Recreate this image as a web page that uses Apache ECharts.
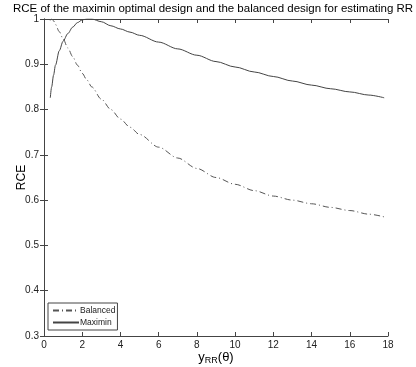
<!DOCTYPE html>
<html>
<head>
<meta charset="utf-8">
<script src="https://cdn.jsdelivr.net/npm/echarts@6/dist/echarts.min.js"></script>
<style>
html,body{margin:0;padding:0;background:#fff;}
#chart{width:416px;height:367px;}
</style>
</head>
<body>
<div id="chart"></div>
<script>
var xValues = [0.33,0.4,0.5,0.6,0.8,1.0,1.25,1.5,1.75,2,2.25,2.5,3,3.5,4,4.5,5,6,7,8,9,10,11,12,13,14,15,16,17,17.8];
var maximinValues = [0.826,0.85,0.876,0.898,0.930,0.951,0.968,0.982,0.992,0.998,1.0,1.0,0.994,0.985,0.978,0.971,0.964,0.949,0.934,0.920,0.906,0.894,0.883,0.873,0.863,0.854,0.846,0.839,0.832,0.826];
var balancedValues = [0.997,1.0,0.996,0.988,0.972,0.956,0.936,0.917,0.898,0.880,0.865,0.850,0.823,0.800,0.779,0.761,0.745,0.717,0.693,0.670,0.650,0.635,0.621,0.609,0.600,0.592,0.584,0.577,0.569,0.563];
var seriesNames = ['Balanced','Maximin'];
var xTicks = {min:0, max:18, interval:2};
var yTicks = {min:0.3, max:1, interval:0.1};

function pairs(xs, ys){ return xs.map(function(x,i){ return [x, ys[i]]; }); }

var font = 'Liberation Sans, Arial, sans-serif';
var axisColor = '#444';
var chart = echarts.init(document.getElementById('chart'), null, {renderer:'canvas'});
var hiddenLabel = {show:false};
chart.setOption({
  animation:false,
  backgroundColor:'#fff',
  title:{
    text:'RCE of the maximin optimal design and the balanced design for estimating RR',
    left:13, top:0, padding:[3,0,0,0],
    textStyle:{fontFamily:font, fontSize:11.5, fontWeight:'normal', color:'#000'}
  },
  grid:{left:44, right:28, top:19, bottom:31, containLabel:false, outerBoundsMode:'none'},
  legend:{
    data:seriesNames,
    orient:'vertical',
    left:48, bottom:37,
    itemWidth:26, itemHeight:8, itemGap:3,
    padding:[3,2,3,4],
    borderColor:'#444', borderWidth:1, borderRadius:0,
    backgroundColor:'#fff',
    itemStyle:{opacity:0},
    textStyle:{fontFamily:font, fontSize:8.5, color:'#222', padding:[0,0,0,-4]}
  },
  xAxis:[{
    type:'value', min:xTicks.min, max:xTicks.max, interval:xTicks.interval,
    position:'bottom',
    name:'{a|y}{b|RR}{a|(θ)}', nameLocation:'middle', nameGap:14, nameMoveOverlap:false,
    nameTextStyle:{rich:{
      a:{fontFamily:font, fontSize:13, color:'#000'},
      b:{fontFamily:font, fontSize:9, color:'#000', verticalAlign:'bottom', padding:[6,0,0,0]}
    }},
    axisLine:{show:true, lineStyle:{color:axisColor, width:1}},
    axisTick:{show:true, inside:true, length:4, lineStyle:{color:axisColor}},
    axisLabel:{fontFamily:font, fontSize:10, color:'#222', margin:4},
    splitLine:{show:false}
  },{
    type:'value', min:xTicks.min, max:xTicks.max, interval:xTicks.interval,
    position:'top',
    axisLine:{show:true, lineStyle:{color:axisColor, width:1}},
    axisTick:{show:true, inside:true, length:4, lineStyle:{color:axisColor}},
    axisLabel:hiddenLabel, splitLine:{show:false}
  }],
  yAxis:[{
    type:'value', min:yTicks.min, max:yTicks.max, interval:yTicks.interval,
    position:'left',
    name:'RCE', nameLocation:'middle', nameGap:16, nameRotate:90, nameMoveOverlap:false,
    nameTextStyle:{fontFamily:font, fontSize:12, color:'#000'},
    axisLine:{show:true, lineStyle:{color:axisColor, width:1}},
    axisTick:{show:true, inside:true, length:4, lineStyle:{color:axisColor}},
    axisLabel:{fontFamily:font, fontSize:10, color:'#222', margin:5,
      formatter:function(v){ return Math.abs(v-1)<1e-9 ? '1' : v.toFixed(1); }},
    splitLine:{show:false}
  },{
    type:'value', min:yTicks.min, max:yTicks.max, interval:yTicks.interval,
    position:'right',
    axisLine:{show:true, lineStyle:{color:axisColor, width:1}},
    axisTick:{show:true, inside:true, length:4, lineStyle:{color:axisColor}},
    axisLabel:hiddenLabel, splitLine:{show:false}
  }],
  series:[{
    name:seriesNames[0], type:'line', xAxisIndex:0, yAxisIndex:0,
    data:pairs(xValues, balancedValues),
    smooth:0.3, smoothMonotone:'x',
    symbol:'none', showSymbol:false,
    lineStyle:{color:'#555', width:1, type:[6,3,1,3]},
    itemStyle:{color:'#555'}
  },{
    name:seriesNames[1], type:'line', xAxisIndex:0, yAxisIndex:0,
    data:pairs(xValues, maximinValues),
    smooth:0.3, smoothMonotone:'x',
    symbol:'none', showSymbol:false,
    lineStyle:{color:'#444', width:1, type:'solid'},
    itemStyle:{color:'#444'}
  }]
});
</script>
</body>
</html>
